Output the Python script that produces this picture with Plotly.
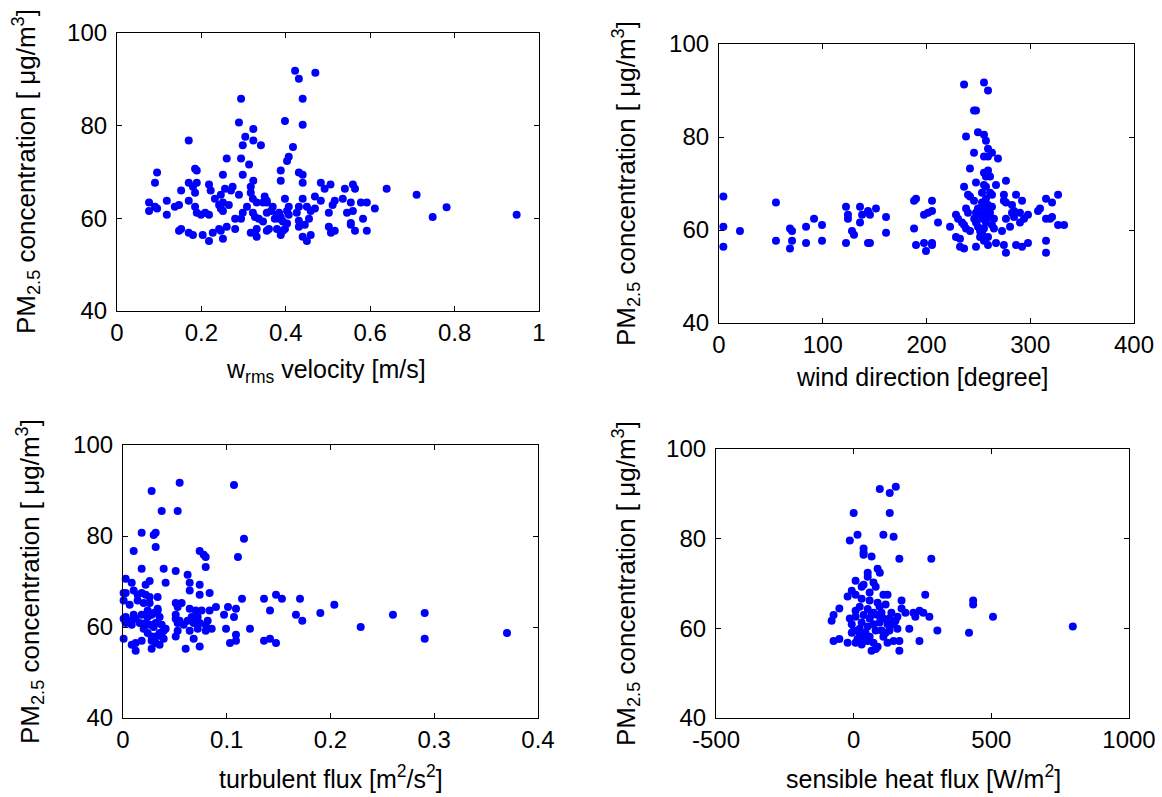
import plotly.graph_objects as go

# ---------------- data ----------------
w_rms = [0.422,0.431,0.470,0.294,0.440,0.289,0.398,0.440,0.323,0.170,
         0.304,0.323,0.298,0.341,0.417,0.407,0.403,0.260,0.294,0.313,
         0.185,0.189,0.095,0.388,0.431,0.440,0.251,0.298,0.090,0.170,
         0.189,0.180,0.218,0.222,0.323,0.388,0.440,0.483,0.506,0.492,
         0.559,0.564,0.540,0.639,0.710,0.781,0.748,0.947,0.152,0.185,
         0.256,0.274,0.270,0.289,0.232,0.246,0.251,0.265,0.242,0.246,
         0.251,0.317,0.317,0.322,0.331,0.350,0.355,0.369,0.308,0.298,
         0.294,0.280,0.322,0.327,0.336,0.346,0.355,0.365,0.374,0.384,
         0.379,0.388,0.393,0.398,0.407,0.403,0.407,0.403,0.393,0.388,
         0.426,0.431,0.440,0.431,0.431,0.445,0.455,0.450,0.459,0.469,
         0.469,0.483,0.440,0.450,0.459,0.502,0.502,0.507,0.516,0.511,
         0.516,0.535,0.554,0.545,0.559,0.554,0.554,0.564,0.583,0.578,
         0.592,0.611,0.592,0.076,0.076,0.090,0.095,0.118,0.118,0.137,
         0.147,0.170,0.185,0.189,0.199,0.209,0.218,0.147,0.152,0.170,
         0.180,0.203,0.218,0.227,0.242,0.246,0.260,0.251,0.280,0.317,
         0.327,0.331,0.331,0.355,0.360,0.379,0.384,0.398,0.346,0.355]
pm_w = [91.85,90.1,91.4,85.8,85.8,80.7,81.0,80.2,79.3,76.8,
        77.6,76.8,75.8,75.8,75.4,73.3,72.4,72.9,72.9,71.6,
        70.7,70.3,69.9,70.3,69.9,69.4,69.4,69.4,67.7,67.7,
        67.7,66.8,67.3,66.0,68.1,68.1,67.7,67.7,67.3,66.4,
        67.3,66.4,66.4,66.4,65.1,62.4,60.3,60.8,66.0,65.5,
        66.4,66.8,66.0,65.1,64.2,65.1,63.4,62.9,62.9,62.1,
        61.6,66.8,65.5,64.2,63.4,64.7,63.4,62.5,62.5,61.2,
        59.9,59.9,61.2,60.3,59.9,59.3,61.2,61.6,59.9,61.2,
        60.8,60.3,59.3,64.2,62.5,61.6,60.8,58.9,57.3,56.4,
        61.2,62.5,64.2,59.5,58.2,58.6,59.9,62.5,61.6,62.1,
        64.7,63.8,56.0,55.1,56.4,61.2,58.2,56.9,57.3,62.9,
        63.8,64.2,63.4,61.2,61.6,59.0,58.6,57.3,59.9,63.4,
        63.4,62.1,57.3,63.4,61.6,62.5,62.1,63.8,60.8,62.5,
        62.9,63.8,62.5,61.2,60.8,61.2,60.8,57.3,57.7,56.9,
        56.4,56.4,55.1,56.9,57.7,57.3,58.2,55.6,57.7,56.9,
        56.9,56.0,57.7,57.3,57.7,57.7,59.9,57.7,63.4,63.8]

wind_dir = [236.2,255.4,259.3,245.8,247.7,238.1,249.6,255.4,257.3,259.3,
            263.1,259.3,255.4,268.9,245.8,241.9,255.4,259.3,257.3,261.2,
            247.7,255.4,257.3,267.0,236.2,276.6,240.0,241.9,245.8,253.5,
            261.2,263.1,257.3,253.5,259.3,263.1,274.6,286.3,292.1,276.6,
            282.4,274.6,238.1,240.0,228.4,230.4,234.2,236.2,238.1,242.0,
            246.0,247.7,249.6,251.6,247.7,253.5,251.6,255.4,257.3,261.2,
            265.0,263.1,265.0,251.6,255.4,259.3,253.5,228.4,232.3,232.3,
            236.2,247.7,259.3,267.0,272.8,276.6,280.5,284.4,290.1,294.0,
            290.1,297.8,284.4,282.4,274.6,276.6,286.3,292.1,297.8,307.5,
            309.4,315.2,321.0,326.8,315.2,319.1,321.0,326.8,332.6,315.2,
            315.2,222.7,211.1,197.6,201.5,205.3,205.3,188.0,189.9,188.0,
            189.9,197.6,199.5,205.3,205.3,161.0,161.0,151.3,143.6,145.5,
            137.9,135.9,122.4,124.3,124.3,135.9,128.2,130.1,122.4,143.6,
            145.5,99.3,99.3,91.6,83.9,83.9,68.4,70.4,70.4,68.4,
            54.9,54.9,20.2,4.2,4.2,4.2,253.5,257.3,249.6,261.2,
            255.4]
pm_d = [91.3,91.7,90.0,85.7,85.7,80.1,81.0,80.5,79.2,77.5,
        76.6,75.8,75.8,75.4,76.6,73.2,72.3,72.8,71.5,71.5,
        70.2,69.7,69.3,69.7,69.3,70.6,67.6,67.2,66.3,68.0,
        68.0,67.6,66.7,65.9,65.4,65.0,67.6,67.6,66.3,65.9,
        65.4,66.3,64.6,63.7,63.3,62.4,61.6,61.1,60.3,59.8,
        62.4,61.6,60.7,63.3,63.7,62.4,59.8,60.3,61.6,63.7,
        62.4,61.1,60.3,58.5,57.7,58.5,59.4,58.5,58.1,56.4,
        56.0,56.4,56.8,57.2,59.8,62.4,60.7,62.8,63.7,62.4,
        61.6,63.3,64.1,63.7,56.8,55.1,56.8,56.4,57.2,64.1,
        64.6,66.7,65.9,67.6,62.4,62.4,62.8,61.1,61.1,57.7,
        55.1,60.7,61.6,63.3,63.7,64.1,66.3,66.3,66.7,60.3,
        56.8,57.2,55.5,57.2,56.8,62.8,59.4,64.6,64.1,63.3,
        63.3,65.0,65.0,63.3,62.4,61.6,59.8,59.0,57.2,57.2,
        57.2,61.1,57.7,62.4,60.7,57.2,60.3,59.8,57.7,56.0,
        65.9,57.7,59.8,67.2,60.7,56.4,65.0,64.1,64.6,62.8,
        62.8]

turb_flux = [0.0546,0.107,0.0276,0.0373,0.0527,0.0180,0.0296,0.0315,0.1166,0.0315,
             0.0103,0.0739,0.0778,0.0797,0.1108,0.0797,0.0180,0.0392,0.0508,0.0623,
             0.0026,0.0084,0.0218,0.0257,0.0411,0.0643,0.0739,0.0643,0.0835,0.0739,
             0.0006,0.0026,0.0103,0.0141,0.0180,0.0218,0.0257,0.0334,0.0006,0.0064,
             0.0141,0.0199,0.0257,0.0508,0.0565,0.0527,0.1147,0.1359,0.1475,0.1532,
             0.1706,0.2037,0.1902,0.1667,0.1728,0.2602,0.2908,0.2291,0.2908,0.3701,
             0.0896,0.1012,0.1089,0.1070,0.0974,0.1417,0.0993,0.1224,0.1089,0.1089,
             0.1031,0.1359,0.1417,0.1475,
             0.0643,0.0700,0.0758,0.0835,0.0720,0.0662,0.0816,0.0623,0.0681,0.0739,
             0.0797,0.0855,0.0797,0.0720,0.0643,0.0585,0.0527,0.0508,0.0508,0.0546,
             0.0508,0.0527,0.0681,0.0604,0.0739,
             0.0006,0.0084,0.0122,0.0180,0.0122,0.0276,0.0276,0.0315,0.0353,0.0392,
             0.0373,0.0315,0.0276,0.0238,0.0353,0.0392,0.0411,0.0373,0.0315,0.0353,
             0.0334,0.0276,0.0238,0.0180,0.0122,0.0084,0.0064,0.0026,0.0006,0.0026,
             0.0103,0.0161,0.0218,0.0257,0.0296,0.0199,0.0238,0.0334,0.0296]
pm_t = [91.7,91.2,89.9,85.5,85.5,80.7,80.2,80.7,79.4,77.6,
        76.7,76.7,75.9,75.4,75.4,73.2,72.8,72.8,72.3,71.5,
        70.6,69.7,69.3,70.1,69.7,69.7,69.3,68.0,67.5,67.1,
        67.5,67.5,68.0,67.1,67.5,67.1,66.6,66.6,65.8,64.9,
        65.8,65.3,65.3,65.3,65.3,64.4,66.2,66.2,67.1,66.2,
        66.2,64.9,63.1,62.7,61.4,62.7,63.1,60.0,57.4,58.7,
        64.4,64.4,64.0,62.2,62.7,63.6,59.6,59.6,58.3,57.0,
        56.5,57.0,57.4,56.5,
        64.0,63.6,63.6,63.6,62.2,62.2,61.4,61.4,60.9,60.9,
        60.5,59.6,59.2,59.6,59.2,60.5,60.9,62.7,61.8,61.4,
        57.9,59.2,57.4,55.2,55.7,
        57.4,56.1,56.5,57.0,54.8,55.2,57.0,56.5,56.1,57.4,
        57.9,57.9,57.9,58.7,58.7,59.2,59.6,60.5,60.9,62.2,
        63.6,62.7,63.6,62.7,61.8,60.5,61.4,62.2,61.8,60.9,
        62.7,60.9,60.9,60.5,60.0,59.6,62.2,64.0,63.1]

heat_flux = [153,95,131,0,131,14,108,145,-14,36,
             36,65,36,166,282,87,95,51,51,7,
             72,80,36,29,-7,-22,7,
             58,108,123,87,58,29,22,7,51,72,101,116,94,
             174,174,260,434,434,506,796,419,304,202,239,166,
             217,239,224,253,275,188,
             -52,-73,-80,
             -73,-52,-22,
             7,29,51,72,65,80,87,
             108,123,145,166,
             130,159,152,137,159,145,
             -14,-7,0,22,43,7,29,58,72,94,108,123,116,80,58,36,14,-7,22,87,65,51,101,130,36]
pm_h = [91.6,91.1,90.2,85.7,85.7,80.9,80.9,80.4,79.6,77.8,
        76.4,76.0,76.9,75.5,75.5,73.3,72.4,72.4,71.5,70.6,
        70.2,69.3,69.7,69.3,68.4,67.1,67.5,
        68.0,67.5,67.5,65.7,66.2,66.6,64.8,63.9,64.3,63.5,63.5,65.3,64.8,
        66.2,64.4,67.5,66.2,65.3,62.6,60.4,59.0,59.5,59.9,57.2,55.0,
        63.5,63.9,62.6,63.5,62.6,63.5,
        64.4,63.0,61.7,
        57.2,57.6,56.8,
        56.8,56.4,57.2,56.8,55.0,55.4,55.9,
        58.1,56.8,57.2,57.2,
        59.5,59.9,61.7,63.5,62.6,60.9,
        62.2,60.9,59.5,58.6,59.0,62.6,61.3,62.2,60.9,61.3,62.2,60.9,59.0,59.5,58.1,57.6,57.6,59.0,59.9,63.0,63.0,60.4,59.5,62.2,63.0]

for a, b in [(w_rms, pm_w), (wind_dir, pm_d), (turb_flux, pm_t), (heat_flux, pm_h)]:
    assert len(a) == len(b), (len(a), len(b))

# tick values / labels
y_ticks = [40, 60, 80, 100]
y_ticklabels = ["40", "60", "80", "100"]
x_ticks = [[0, 0.2, 0.4, 0.6, 0.8, 1], [0, 100, 200, 300, 400],
           [0, 0.1, 0.2, 0.3, 0.4], [-500, 0, 500, 1000]]
x_ticklabels = [["0", "0.2", "0.4", "0.6", "0.8", "1"], ["0", "100", "200", "300", "400"],
                ["0", "0.1", "0.2", "0.3", "0.4"], ["-500", "0", "500", "1000"]]
x_ranges = [[0, 1], [0, 400], [0, 0.4], [-500, 1000]]
x_titles = ["w<sub>rms</sub> velocity [m/s]", "wind direction [degree]",
            "turbulent flux [m<sup>2</sup>/s<sup>2</sup>]", "sensible heat flux [W/m<sup>2</sup>]"]
y_title = "PM<sub>2.5</sub> concentration [ \u03bcg/m<sup>3</sup>]"

# ---------------- layout ----------------
W, H = 1162, 797
FONT = "Liberation Sans, Arial, Helvetica, sans-serif"
# plot boxes in pixels: left, right, top, bottom
boxes = [(117, 539, 33, 311), (719, 1134, 44, 323),
         (123, 538, 445, 718), (716, 1129, 449, 718)]
xlab_pos = [(326, 371), (922, 377), (331, 777), (923, 777)]
ylab_pos = [(26, 172), (626, 184), (30, 582), (626, 584)]

fig = go.Figure()
xs = [w_rms, wind_dir, turb_flux, heat_flux]
ys = [pm_w, pm_d, pm_t, pm_h]
annotations = []
for i in range(4):
    sfx = "" if i == 0 else str(i + 1)
    fig.add_trace(go.Scatter(x=xs[i], y=ys[i], mode="markers",
                             marker=dict(color="#0000FF", size=8, line=dict(width=0)),
                             xaxis="x" + sfx, yaxis="y" + sfx, showlegend=False,
                             cliponaxis=False))
    l, r, t, b = boxes[i]
    common = dict(showline=True, mirror="ticks", ticks="inside", ticklen=5,
                  linecolor="black", linewidth=1.2, tickcolor="black", tickwidth=1,
                  showgrid=False, zeroline=False, automargin=False,
                  tickfont=dict(family=FONT, size=24, color="black"))
    fig.layout["xaxis" + sfx] = dict(domain=[l / W, r / W], range=x_ranges[i],
                                     tickmode="array", tickvals=x_ticks[i],
                                     ticktext=x_ticklabels[i], ticklabelstandoff=0,
                                     anchor="y" + sfx, **common)
    fig.layout["yaxis" + sfx] = dict(domain=[1 - b / H, 1 - t / H], range=[40, 100],
                                     tickmode="array", tickvals=y_ticks,
                                     ticktext=y_ticklabels, ticklabelstandoff=4,
                                     anchor="x" + sfx, **common)
    annotations.append(dict(text=x_titles[i], x=xlab_pos[i][0] / W, y=1 - xlab_pos[i][1] / H,
                            xref="paper", yref="paper", showarrow=False,
                            xanchor="center", yanchor="middle",
                            font=dict(family=FONT, size=25, color="black")))
    annotations.append(dict(text=y_title, x=ylab_pos[i][0] / W, y=1 - ylab_pos[i][1] / H,
                            xref="paper", yref="paper", showarrow=False, textangle=-90,
                            xanchor="center", yanchor="middle",
                            font=dict(family=FONT, size=26, color="black")))

fig.update_layout(width=W, height=H,
                  margin=dict(l=0, r=0, t=0, b=0, pad=0, autoexpand=False),
                  paper_bgcolor="white", plot_bgcolor="white",
                  annotations=annotations)

fig.write_html("out.html")
